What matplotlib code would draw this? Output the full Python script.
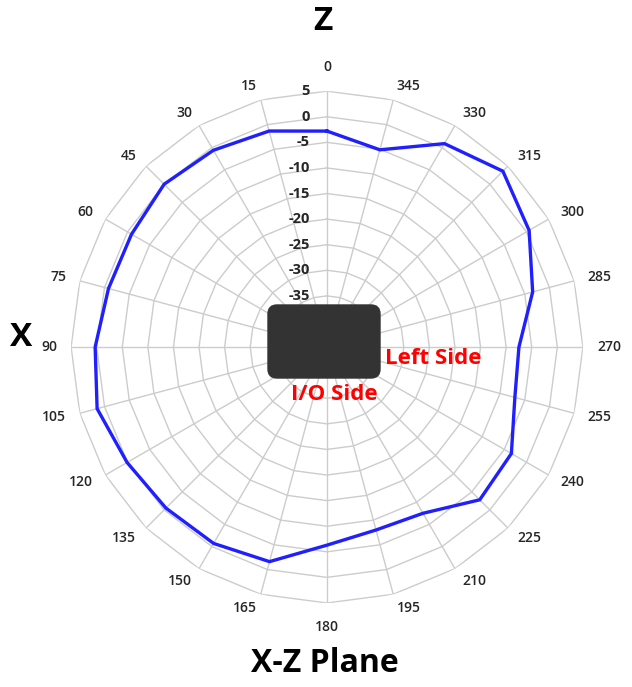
import numpy as np
import matplotlib
matplotlib.use("Agg")
import matplotlib.pyplot as plt
from matplotlib.patches import FancyBboxPatch
from matplotlib.transforms import offset_copy

# ---- data ----
angles_deg = [0, 15, 30, 45, 60, 75, 90, 105, 120, 135, 150, 165,
              180, 195, 210, 225, 240, 255, 270, 285, 300, 315, 330, 345]
angle_labels = [str(a) for a in angles_deg]
gain_db = [-2.8, -1.3, -0.6, 0.0, -0.9, -0.8, 0.3, 1.5, 0.1, -0.5, -0.7, -1.6,
           -6.3, -8.0, -7.5, -2.8, -3.4, -7.0, -7.5, -3.4, 0.6, 3.6, 0.9, -5.1]
r_ticks = [5, 0, -5, -10, -15, -20, -25, -30, -35]
r_rings = [-40, -35, -30, -25, -20, -15, -10, -5, 0, 5]
r_min, r_max = -45, 5

FONT = ["Open Sans", "DejaVu Sans"]
plt.rcParams["font.family"] = FONT

fig = plt.figure(figsize=(6.32, 6.87), dpi=100)
ax = fig.add_axes([0.1124, 0.1223, 0.810, 0.745], projection="polar")
ax.set_theta_zero_location("N")
ax.set_theta_direction(1)
ax.set_ylim(r_min, r_max)
ax.grid(False)
ax.set_xticks([])
ax.set_yticks([])
ax.spines["polar"].set_visible(False)
ax.patch.set_visible(False)

theta = np.deg2rad(angles_deg)
closed = np.append(theta, theta[0])
grid_c = "#cccccc"
for v in r_rings:
    ax.plot(closed, [v] * len(closed), color=grid_c, lw=1.0, zorder=1)
for t in theta:
    ax.plot([t, t], [r_min, r_max], color=grid_c, lw=1.0, zorder=1)

ax.plot(closed, np.append(gain_db, gain_db[0]), color="#1f1fff", lw=2.4,
        zorder=3, solid_joinstyle="miter")

# angle labels
for t, lab in zip(theta, angle_labels):
    s = np.sin(t)
    c = np.cos(t)
    ha = "right" if s > 0.2 else ("left" if s < -0.2 else "center")
    if c > 0.99:
        va, rp = "bottom", 273
    elif c < -0.99:
        va, rp = "top", 273
    else:
        va, rp = "center", 270
    ax.text(t, r_min + rp / 5.12, lab, ha=ha, va=va, fontsize=10,
            color="#262626", fontweight="semibold", clip_on=False)

# radial labels
trans = offset_copy(ax.transData, fig=fig, x=-17, y=0, units="dots")
for v in r_ticks:
    ax.text(0, v, str(v), transform=trans, ha="right", va="center",
            fontsize=10.5, color="#262626", fontweight="bold", zorder=4)

# device block in the centre
box = FancyBboxPatch((2.68, 3.09), 1.12, 0.73,
                     boxstyle="round,pad=0,rounding_size=0.09",
                     transform=fig.dpi_scale_trans, facecolor="#333333",
                     edgecolor="#333333", zorder=5)
fig.add_artist(box)

fig.text(3.85 / 6.32, (6.87 - 3.58) / 6.87, "Left Side", color="#ff0000",
         fontsize=16, fontweight="bold", ha="left", va="center", zorder=6)
fig.text(3.34 / 6.32, (6.87 - 3.95) / 6.87, "I/O Side", color="#ff0000",
         fontsize=16, fontweight="bold", ha="center", va="center", zorder=6)

fig.text(323 / 632, 1 - 22 / 687, "Z", fontsize=24, fontweight="bold",
         ha="center", va="center")
fig.text(21 / 632, 1 - 338 / 687, "X", fontsize=24, fontweight="bold",
         ha="center", va="center")
fig.text(325 / 632, 1 - 664 / 687, "X-Z Plane", fontsize=23,
         fontweight="bold", ha="center", va="center")

fig.savefig("out.png", dpi=100)
